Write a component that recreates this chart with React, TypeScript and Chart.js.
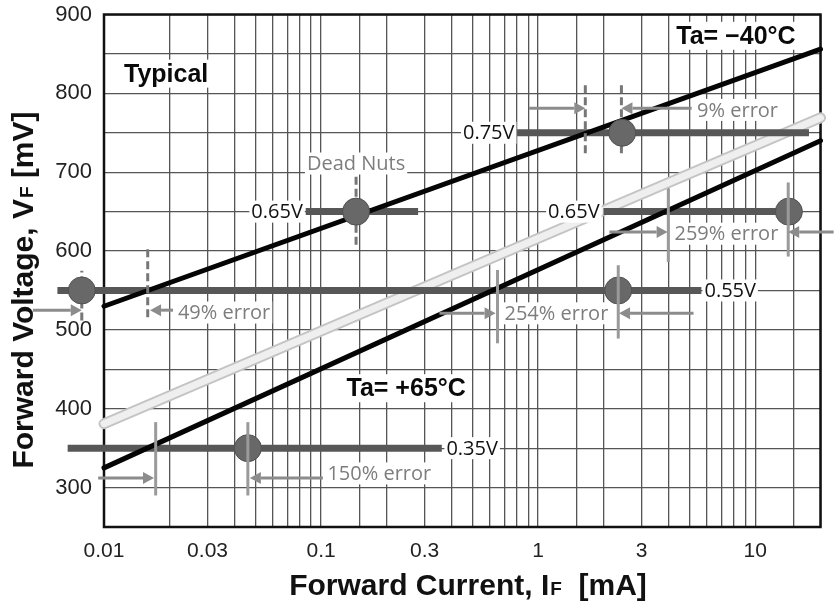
import React, { useEffect, useRef } from 'react';
import { Chart, registerables } from 'chart.js';

Chart.register(...registerables);

// ---- axis ranges and tick labels ----
const xRange = [0.01, 20];
const yRange = [250, 900];
const xTickLabels = [0.01, 0.03, 0.1, 0.3, 1, 3, 10];
const yTickLabels = [300, 400, 500, 600, 700, 800, 900];

// ---- forward voltage curves (mV) vs forward current (mA) ----
const curveCurrent = [0.01, 20];
const vfMinus40 = [530, 856];
const vfTypical = [381, 769];
const vfPlus65 = [325, 740];

// ---- horizontal threshold bars ----
const barVoltage = [750, 650, 650, 550, 350];
const barFrom = [0.8, 0.085, 2.0, 0.0061, 0.0068];
const barTo = [17.7, 0.28, 14.4, 5.65, 0.36];

// ---- operating points (dots) ----
const dotCurrent = [2.44, 0.145, 14.3, 0.0079, 2.34, 0.046];
const dotVoltage = [750, 650, 650, 550, 550, 350];

// ---- dashed markers ----
const dashCurrent = [1.65, 2.42, 0.145, 0.0159, 0.0079];
const dashLow = [724, 724, 608, 516, 512];
const dashHigh = [812, 812, 700, 604, 575];

// ---- solid markers ----
const solidCurrent = [3.98, 14.2, 0.65, 2.34, 0.0173, 0.046];
const solidLow = [586, 593, 483, 489, 290, 290];
const solidHigh = [679, 687, 576, 582, 383, 383];

// ---- error arrows ----
const arrowFrom = [0.91, 5.1, 2.13, 23, 0.0047, 0.0208, 0.351, 5.2, 0.0094, 0.102];
const arrowTo = [1.65, 2.42, 3.95, 14.2, 0.0079, 0.0163, 0.637, 2.36, 0.017, 0.047];
const arrowVoltage = [781, 781, 624, 624, 525, 525, 521, 521, 312, 312];

// ---- annotation texts ----
const noteText = ['0.75V', '0.65V', '0.65V', '0.55V', '0.35V', 'Dead Nuts', '9% error', '259% error', '49% error', '254% error', '150% error'];
const noteCurrent = [0.778, 0.0824, 1.92, 5.84, 0.378, 0.145, 5.4, 4.25, 0.0219, 0.7, 0.107];
const noteVoltage = [750, 650, 650, 550, 350, 711, 779, 622, 522, 521, 318];
const noteAlign = ['right', 'right', 'right', 'left', 'left', 'center', 'left', 'left', 'left', 'left', 'left'];
const noteKind = ['v', 'v', 'v', 'v', 'v', 'g', 'g', 'g', 'g', 'g', 'g'];

const headText = ['Typical', 'Ta= \u221240\u00B0C', 'Ta= +65\u00B0C'];
const headCurrent = [0.01236, 4.33, 0.131];
const headVoltage = [825, 873, 426];

const SANS = '"Liberation Sans", Arial, Helvetica, sans-serif';
const NOTE_FONT = '"Open Sans", "DejaVu Sans", sans-serif';

const near = (a: number, b: number) => Math.abs(a - b) / Math.abs(b) < 1e-6;

function pts(xs: number[], ys: number[]) {
  return xs.map((x, i) => ({ x, y: ys[i] }));
}

const datasets: any[] = [];

// gray typical line (shadow + core)
datasets.push({
  data: pts(curveCurrent, vfTypical), borderColor: '#c4c4c4', borderWidth: 11,
  pointRadius: 0, order: 8, borderCapStyle: 'round',
});
datasets.push({
  data: pts(curveCurrent, vfTypical), borderColor: '#efefef', borderWidth: 7,
  pointRadius: 0, order: 7, borderCapStyle: 'round',
});
// bars
barVoltage.forEach((v, i) => {
  datasets.push({
    data: [{ x: barFrom[i], y: v }, { x: barTo[i], y: v }],
    borderColor: '#575757', borderWidth: 7, pointRadius: 0, order: 6,
  });
});
// black temperature lines
[vfMinus40, vfPlus65].forEach((arr) => {
  datasets.push({
    data: pts(curveCurrent, arr), borderColor: '#050505', borderWidth: 5,
    pointRadius: 0, order: 5, borderCapStyle: 'round',
  });
});
// dashed markers
dashCurrent.forEach((x, i) => {
  datasets.push({
    data: [{ x, y: dashLow[i] }, { x, y: dashHigh[i] }],
    borderColor: '#777', borderWidth: 3, borderDash: [8, 4], pointRadius: 0, order: 4,
  });
});
// dots
datasets.push({
  id: 'dots',
  data: pts(dotCurrent, dotVoltage), showLine: false, pointRadius: 13.5,
  pointBackgroundColor: '#686868', pointBorderColor: '#505050', pointBorderWidth: 1,
  order: 3,
});
// solid markers
solidCurrent.forEach((x, i) => {
  datasets.push({
    data: [{ x, y: solidLow[i] }, { x, y: solidHigh[i] }],
    borderColor: '#9a9a9a', borderWidth: 3, pointRadius: 0, order: 2,
  });
});
datasets.forEach((d) => { d.clip = false; d.pointHoverRadius = d.pointRadius; });

const framePlugin = {
  id: 'frame',
  beforeDatasetsDraw(chart: any) {
    const { ctx, chartArea: a } = chart;
    ctx.save();
    ctx.strokeStyle = '#111';
    ctx.lineWidth = 2.5;
    ctx.strokeRect(a.left, a.top, a.right - a.left, a.bottom - a.top);
    ctx.restore();
  },
};

// lets the dots that lie just outside the plot (left of 0.01 mA) still be drawn
let savedArea: any = null;
const wideAreaPlugin = {
  id: 'wideArea',
  beforeDatasetDraw(chart: any, args: any) {
    if (args.meta && args.meta._dataset && args.meta._dataset.id === 'dots') {
      savedArea = chart.chartArea;
      chart.chartArea = { left: -2000, top: -2000, right: 4000, bottom: 4000, width: 6000, height: 6000 };
    }
  },
  afterDatasetDraw(chart: any, args: any) {
    if (savedArea && args.meta && args.meta._dataset && args.meta._dataset.id === 'dots') {
      chart.chartArea = savedArea;
      savedArea = null;
    }
  },
};

function boxText(ctx: any, text: string, x: number, y: number, align: string, font: string, color: string) {
  ctx.font = font;
  const w = ctx.measureText(text).width;
  let left = x;
  if (align === 'right') left = x - w;
  else if (align === 'center') left = x - w / 2;
  ctx.fillStyle = '#fff';
  ctx.fillRect(left - 2, y - 11, w + 4, 22);
  ctx.fillStyle = color;
  ctx.textBaseline = 'middle';
  ctx.textAlign = 'left';
  ctx.fillText(text, left, y + 1);
}

const notesPlugin = {
  id: 'notes',
  afterDatasetsDraw(chart: any) {
    const { ctx } = chart;
    const xs = chart.scales.x;
    const ys = chart.scales.y;
    ctx.save();
    // arrows
    ctx.strokeStyle = '#8c8c8c';
    ctx.fillStyle = '#8c8c8c';
    ctx.lineWidth = 3;
    arrowFrom.forEach((f, i) => {
      const x1 = xs.getPixelForValue(f);
      const x2 = xs.getPixelForValue(arrowTo[i]);
      const y = ys.getPixelForValue(arrowVoltage[i]);
      const dir = Math.sign(x2 - x1);
      const head = 11;
      ctx.beginPath();
      ctx.moveTo(x1, y);
      ctx.lineTo(x2 - dir * head, y);
      ctx.stroke();
      ctx.beginPath();
      ctx.moveTo(x2, y);
      ctx.lineTo(x2 - dir * head, y - 6);
      ctx.lineTo(x2 - dir * head, y + 6);
      ctx.closePath();
      ctx.fill();
    });
    // annotation texts
    noteText.forEach((t, i) => {
      const x = xs.getPixelForValue(noteCurrent[i]);
      const y = ys.getPixelForValue(noteVoltage[i]);
      const color = noteKind[i] === 'v' ? '#111' : '#7d7d7d';
      boxText(ctx, t, x, y, noteAlign[i], '20px ' + NOTE_FONT, color);
    });
    headText.forEach((t, i) => {
      const x = xs.getPixelForValue(headCurrent[i]);
      const y = ys.getPixelForValue(headVoltage[i]);
      ctx.font = 'bold 25px ' + SANS;
      const w = ctx.measureText(t).width;
      ctx.fillStyle = '#fff';
      ctx.fillRect(x - 3, y - 14, w + 6, 28);
      ctx.fillStyle = '#0a0a0a';
      ctx.textBaseline = 'middle';
      ctx.textAlign = 'left';
      ctx.fillText(t, x, y + 1);
    });
    ctx.restore();
  },
};

function drawTitle(ctx: any, main: string, sub: string, tail: string, size: number) {
  const big = 'bold ' + size + 'px ' + SANS;
  const small = 'bold ' + Math.round(size * 0.62) + 'px ' + SANS;
  ctx.font = big;
  const w1 = ctx.measureText(main).width;
  const w3 = ctx.measureText(tail).width;
  ctx.font = small;
  const w2 = ctx.measureText(sub).width + 1;
  const total = w1 + w2 + w3;
  let x = -total / 2;
  ctx.textBaseline = 'alphabetic';
  ctx.textAlign = 'left';
  ctx.fillStyle = '#111';
  ctx.font = big;
  ctx.fillText(main, x, 0);
  x += w1;
  ctx.font = small;
  ctx.fillText(sub, x + 1, 0);
  x += w2;
  ctx.font = big;
  ctx.fillText(tail, x, 0);
}

const titlePlugin = {
  id: 'titles',
  afterDraw(chart: any) {
    const { ctx } = chart;
    ctx.save();
    ctx.translate(468, 595);
    drawTitle(ctx, 'Forward Current, I', 'F', '  [mA]', 30);
    ctx.restore();
    ctx.save();
    ctx.translate(33, 290);
    ctx.rotate(-Math.PI / 2);
    drawTitle(ctx, 'Forward Voltage, V', 'F', ' [mV]', 30);
    ctx.restore();
  },
};

export default function App() {
  const ref = useRef<HTMLCanvasElement>(null);
  useEffect(() => {
    const chart = new Chart(ref.current as HTMLCanvasElement, {
      type: 'line',
      data: { datasets },
      options: {
        animation: false,
        responsive: false,
        events: [],
        layout: { padding: { top: 14, right: 13, left: 0, bottom: 0 } },
        plugins: { legend: { display: false }, tooltip: { enabled: false } },
        scales: {
          x: {
            type: 'logarithmic',
            min: xRange[0],
            max: xRange[1],
            afterFit: (s: any) => {
              s.height = 74;
              s.paddingLeft = 0;
              s.paddingRight = 0;
            },
            border: { display: false },
            grid: { color: '#555', lineWidth: 1.3, drawTicks: false },
            ticks: {
              autoSkip: false,
              maxRotation: 0,
              minRotation: 0,
              padding: 12,
              color: '#222',
              font: { size: 21, family: SANS },
              callback: (v: any) => {
                const m = xTickLabels.find((t) => near(Number(v), t));
                return m !== undefined ? String(m) : '';
              },
            },
          },
          y: {
            type: 'linear',
            min: yRange[0],
            max: yRange[1],
            afterFit: (s: any) => {
              s.width = 104;
              s.paddingTop = 0;
              s.paddingBottom = 0;
            },
            border: { display: false },
            grid: { color: '#555', lineWidth: 1.3, drawTicks: false },
            ticks: {
              stepSize: 50,
              padding: 12,
              color: '#222',
              font: { size: 22, family: SANS },
              callback: (v: any) => (yTickLabels.includes(Number(v)) ? String(v) : ''),
            },
          },
        },
      } as any,
      plugins: [framePlugin, wideAreaPlugin, notesPlugin, titlePlugin],
    });
    return () => chart.destroy();
  }, []);
  return (
    <div style={{ position: 'absolute', left: 0, top: 0, width: 835, height: 601, background: '#fff' }}>
      <canvas ref={ref} width={835} height={601} style={{ display: 'block', width: 835, height: 601 }} />
    </div>
  );
}
